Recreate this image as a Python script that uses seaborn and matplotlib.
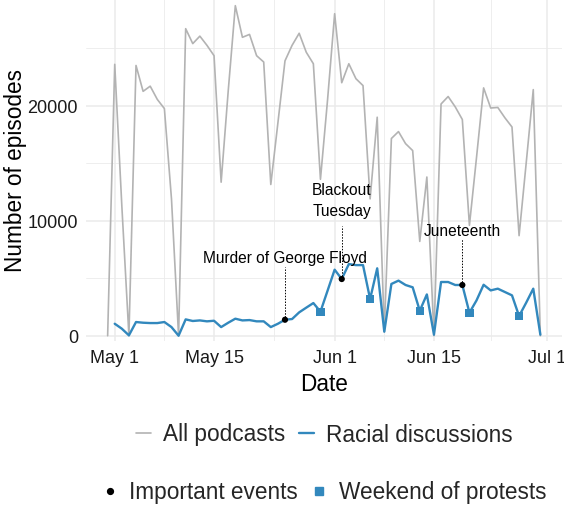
import numpy as np
import pandas as pd
import matplotlib
matplotlib.use("Agg")
import matplotlib.pyplot as plt
import matplotlib.dates as mdates
from matplotlib.lines import Line2D
from matplotlib.ticker import FixedLocator
import seaborn as sns

# ---------------- data ----------------
dates = pd.date_range("2020-04-30", "2020-06-30", freq="D")

all_podcasts = [
    0, 23600, 11300, 0, 23500, 21250, 21700, 20550, 19750, 11900,
    0, 26700, 25400, 26050, 25250, 24350, 13350, 21300, 28700, 25950,
    26200, 24350, 23800, 13150, 18500, 23900, 25250, 26300, 24650, 23650,
    13600, 20500, 28000, 22000, 23650, 22350, 21750, 11900, 19000, 350,
    17150, 17750, 16700, 16100, 8200, 13800, 0, 20150, 20800, 19900,
    18800, 9600, 15500, 21550, 19800, 19850, 18950, 18150, 8700, 15000,
    21400, 0,
]

racial = [
    np.nan, 1040, 610, 30, 1190, 1130, 1100, 1100, 1190, 750,
    0, 1420, 1280, 1330, 1250, 1300, 750, 1130, 1480, 1330,
    1360, 1250, 1250, 750, 1040, 1390, 1450, 2030, 2440, 2840,
    2090, 3910, 5740, 4930, 6230, 6140, 6140, 3190, 5860, 350,
    4500, 4790, 4410, 4210, 2170, 3590, 90, 4670, 4670, 4410,
    4410, 2000, 3070, 4430, 3940, 4090, 3800, 3510, 1710, 2870,
    4090, 90,
]

event_dates = pd.to_datetime(["2020-05-25", "2020-06-02", "2020-06-19"])
event_labels = ["Murder of George Floyd", "Blackout\nTuesday", "Juneteenth"]
protest_dates = pd.to_datetime(["2020-05-30", "2020-06-06", "2020-06-13",
                                "2020-06-20", "2020-06-27"])

x_tick_dates = pd.to_datetime(["2020-05-01", "2020-05-15", "2020-06-01",
                               "2020-06-15", "2020-07-01"])
x_tick_labels = ["May 1", "May 15", "Jun 1", "Jun 15", "Jul 1"]
y_ticks = [0, 10000, 20000]
y_minor = [5000, 15000, 25000]

series_names = ["All podcasts", "Racial discussions"]
colors = {"All podcasts": "#B3B3B3", "Racial discussions": "#3288BD"}

# annotation placement (label centre height, dashed segment top)
label_y = [6840, 11760, 9130]
segment_top = [5970, 9565, 8410]

# ---------------- frames ----------------
df = pd.DataFrame({
    "date": np.concatenate([dates, dates]),
    "episodes": all_podcasts + racial,
    "series": [series_names[0]] * len(dates) + [series_names[1]] * len(dates),
})
rac = pd.Series(racial, index=dates)
ev = pd.DataFrame({"date": event_dates, "episodes": rac.loc[event_dates].values})
pr = pd.DataFrame({"date": protest_dates, "episodes": rac.loc[protest_dates].values})

# ---------------- figure ----------------
sns.set_theme(style="white")
plt.rcParams["font.family"] = ["Liberation Sans", "DejaVu Sans"]

fig = plt.figure(figsize=(5.64, 5.06), dpi=100)
ax = fig.add_axes([86 / 564, 1 - 342 / 506, 476 / 564, 342 / 506])

sns.lineplot(data=df[df.series == "All podcasts"], x="date", y="episodes",
             color=colors["All podcasts"], lw=1.2, ax=ax, legend=False, zorder=2)
sns.lineplot(data=df[df.series == "Racial discussions"], x="date", y="episodes",
             color=colors["Racial discussions"], lw=1.7, ax=ax, legend=False, zorder=3)

# dashed leaders + labels
ax.vlines(event_dates, ev["episodes"], segment_top, colors="black",
          linestyles=(0, (1.5, 1.5)), lw=0.7, zorder=4)
for d, lab, ly in zip(event_dates, event_labels, label_y):
    ax.text(d, ly, lab, ha="center", va="center", fontsize=11.2,
            multialignment="center", linespacing=1.5, color="black", zorder=5)

sns.scatterplot(data=pr, x="date", y="episodes", marker="s", s=36,
                color=colors["Racial discussions"], edgecolor="none", ax=ax,
                legend=False, zorder=6)
sns.scatterplot(data=ev, x="date", y="episodes", marker="o", s=20,
                color="black", edgecolor="none", ax=ax, legend=False, zorder=7)

# ---------------- axes styling ----------------
pad = pd.Timedelta(days=3.05)
ax.set_xlim(dates[0] - pad, dates[-1] + pad)
ax.set_ylim(-460, 29280)

ax.set_xticks(x_tick_dates)
ax.set_xticklabels(x_tick_labels)
xt = mdates.date2num(x_tick_dates)
ax.xaxis.set_minor_locator(FixedLocator((xt[:-1] + xt[1:]) / 2))
ax.set_yticks(y_ticks)
ax.set_yticklabels([str(v) for v in y_ticks])
ax.yaxis.set_minor_locator(FixedLocator(y_minor))

ax.grid(True, which="major", color="#EBEBEB", lw=1.1, zorder=0)
ax.grid(True, which="minor", color="#EBEBEB", lw=0.6, zorder=0)
ax.set_axisbelow(True)
for s in ax.spines.values():
    s.set_visible(False)

ax.tick_params(axis="both", which="major", length=3.2, width=0.8,
               color="#333333", labelsize=13, labelcolor="#1A1A1A", pad=2.5)
ax.tick_params(axis="both", which="minor", length=0)

ax.set_xlabel("Date", fontsize=16.3, color="black")
ax.xaxis.set_label_coords(0.5, -0.092)
ax.set_ylabel("Number of episodes", fontsize=16.3, color="black")
ax.yaxis.set_label_coords(-0.123, 0.5)

# ---------------- legends ----------------
h1 = [Line2D([], [], color=colors[n], lw=1.7 if n == series_names[1] else 1.2)
      for n in series_names]
leg1 = fig.legend(h1, series_names, loc="center", ncol=2, frameon=False,
                  bbox_to_anchor=(324 / 564, 1 - 435 / 506), fontsize=16.3,
                  handlelength=0.7, handletextpad=0.5, columnspacing=0.6)

h2 = [Line2D([], [], ls="none", marker="o", markersize=4.2, color="black"),
      Line2D([], [], ls="none", marker="s", markersize=5.2,
             color=colors["Racial discussions"])]
leg2 = fig.legend(h2, ["Important events", "Weekend of protests"], loc="center",
                  ncol=2, frameon=False, bbox_to_anchor=(324 / 564, 1 - 493 / 506),
                  fontsize=16.3, handlelength=0.7, handletextpad=0.5,
                  columnspacing=0.6)

fig.savefig("out.png", dpi=100)
